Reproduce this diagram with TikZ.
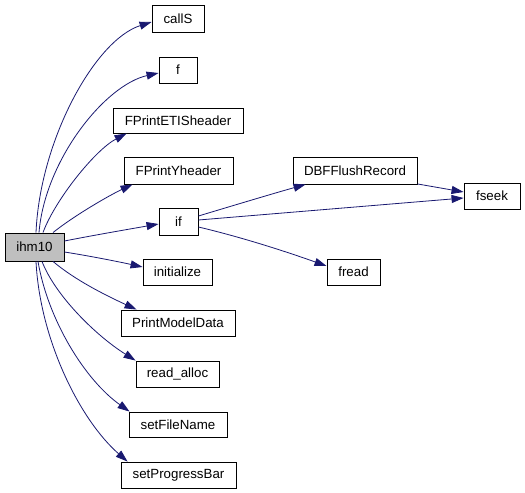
\documentclass[tikz,border=0pt]{standalone}
\usepackage{fontspec}
\setmainfont{Liberation Sans}
\usetikzlibrary{arrows.meta}
\definecolor{edgeblue}{HTML}{191970}
\definecolor{rootgray}{HTML}{BFBFBF}
\tikzset{
  fn/.style={draw=black, line width=0.9bp, fill=white, inner sep=0pt, minimum height=26bp,
    font=\fontsize{13.3bp}{16bp}\selectfont},
  rootfn/.style={fn, fill=rootgray},
  call/.style={draw=edgeblue, line width=0.8bp, -{Triangle[length=12bp,width=8bp]}}
}
\begin{document}
\begin{tikzpicture}[x=1bp,y=1bp]
\useasboundingbox (0,0) rectangle (525,-493);
% nodes (centres in pixel coordinates, y downwards negated)
\node[rootfn, minimum width=59bp, minimum height=28bp] (ihm10) at (34.5,-247) {ihm10};
\node[fn, minimum width=52bp, minimum height=27bp] (callS) at (178,-18.5) {callS};
\node[fn, minimum width=38bp] (f) at (178,-70) {f};
\node[fn, minimum width=130bp, minimum height=25bp] (etis) at (178,-120.5) {FPrintETISheader};
\node[fn, minimum width=109bp, minimum height=27bp] (yhead) at (178.5,-170.5) {FPrintYheader};
\node[fn, minimum width=39bp, minimum height=27bp] (if) at (178.5,-221.5) {if};
\node[fn, minimum width=69bp] (init) at (177.5,-272) {initialize};
\node[fn, minimum width=114bp] (pmd) at (178,-323) {PrintModelData};
\node[fn, minimum width=83bp] (ralloc) at (177.5,-374) {read\_alloc};
\node[fn, minimum width=98bp, minimum height=25bp] (sfn) at (178,-424.5) {setFileName};
\node[fn, minimum width=115bp] (spb) at (178.5,-475) {setProgressBar};
\node[fn, minimum width=124bp, minimum height=27bp] (dbff) at (355,-170.5) {DBFFlushRecord};
\node[fn, minimum width=56bp] (fseek) at (492,-196) {fseek};
\node[fn, minimum width=53bp] (fread) at (353.5,-272) {fread};
% edges from ihm10
\draw[call] ([xshift=1.5bp]ihm10.north) .. controls (40,-140) and (95,-40) .. ([yshift=-3.5bp]callS.west);
\draw[call] ([xshift=4.5bp]ihm10.north) .. controls (45,-160) and (105,-85) .. ([yshift=-3bp]f.west);
\draw[call] ([xshift=8.5bp]ihm10.north) .. controls (55,-200) and (95,-150) .. ([xshift=14bp]etis.south west);
\draw[call] ([xshift=18.5bp]ihm10.north) .. controls (75,-215) and (110,-195) .. ([xshift=9bp]yhead.south west);
\draw[call] ([yshift=6bp]ihm10.east) .. controls (95,-235) and (130,-229) .. ([yshift=-2.5bp]if.west);
\draw[call] ([yshift=-5bp]ihm10.east) .. controls (90,-256) and (120,-262) .. ([yshift=5bp]init.west);
\draw[call] ([xshift=18.5bp]ihm10.south) .. controls (75,-280) and (105,-295) .. ([xshift=16bp]pmd.north west);
\draw[call] ([xshift=7.5bp]ihm10.south) .. controls (55,-295) and (95,-335) .. ([xshift=0bp]ralloc.north west);
\draw[call] ([xshift=3.5bp]ihm10.south) .. controls (48,-320) and (85,-380) .. ([xshift=1bp]sfn.north west);
\draw[call] ([xshift=1.5bp]ihm10.south) .. controls (40,-340) and (80,-420) .. ([xshift=7bp]spb.north west);
% edges from if
\draw[call] ([yshift=5.5bp]if.east) .. controls (235,-205) and (275,-193) .. ([xshift=13bp]dbff.south west);
\draw[call] ([yshift=1.5bp]if.east) -- ([yshift=-2bp]fseek.west);
\draw[call] ([yshift=-5.5bp]if.east) .. controls (245,-238) and (290,-253) .. ([yshift=6bp]fread.west);
\draw[call] ([yshift=0.5bp]dbff.south east) -- ([yshift=4bp]fseek.west);
\end{tikzpicture}
\end{document}
